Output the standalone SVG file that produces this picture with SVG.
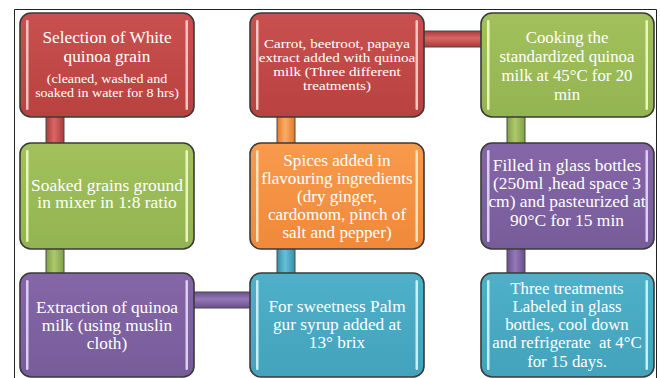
<svg xmlns="http://www.w3.org/2000/svg" width="660" height="378" viewBox="0 0 660 378">
<defs>
<linearGradient id="gRed" x1="0" y1="0" x2="0" y2="1"><stop offset="0" stop-color="#c9504f"/><stop offset="1" stop-color="#b8423f"/></linearGradient>
<linearGradient id="gGreen" x1="0" y1="0" x2="0" y2="1"><stop offset="0" stop-color="#a2c15c"/><stop offset="1" stop-color="#93b452"/></linearGradient>
<linearGradient id="gOrange" x1="0" y1="0" x2="0" y2="1"><stop offset="0" stop-color="#f99a4c"/><stop offset="1" stop-color="#f0893a"/></linearGradient>
<linearGradient id="gPurple" x1="0" y1="0" x2="0" y2="1"><stop offset="0" stop-color="#8566a8"/><stop offset="1" stop-color="#775c9a"/></linearGradient>
<linearGradient id="gBlue" x1="0" y1="0" x2="0" y2="1"><stop offset="0" stop-color="#4fb0ca"/><stop offset="1" stop-color="#43a2bc"/></linearGradient>
<linearGradient id="cRedH" x1="0" y1="0" x2="0" y2="1"><stop offset="0" stop-color="#a73a38"/><stop offset="0.45" stop-color="#d86866"/><stop offset="1" stop-color="#a73a38"/></linearGradient>
<linearGradient id="cRedV" x1="0" y1="0" x2="1" y2="0"><stop offset="0" stop-color="#a73a38"/><stop offset="0.45" stop-color="#d86866"/><stop offset="1" stop-color="#a73a38"/></linearGradient>
<linearGradient id="cGreenV" x1="0" y1="0" x2="1" y2="0"><stop offset="0" stop-color="#80a044"/><stop offset="0.45" stop-color="#aec96c"/><stop offset="1" stop-color="#80a044"/></linearGradient>
<linearGradient id="cPurpleH" x1="0" y1="0" x2="0" y2="1"><stop offset="0" stop-color="#694f8a"/><stop offset="0.45" stop-color="#9478b8"/><stop offset="1" stop-color="#694f8a"/></linearGradient>
<linearGradient id="cPurpleV" x1="0" y1="0" x2="1" y2="0"><stop offset="0" stop-color="#694f8a"/><stop offset="0.45" stop-color="#9478b8"/><stop offset="1" stop-color="#694f8a"/></linearGradient>
<linearGradient id="cBlueV" x1="0" y1="0" x2="1" y2="0"><stop offset="0" stop-color="#338ea8"/><stop offset="0.45" stop-color="#66c0d8"/><stop offset="1" stop-color="#338ea8"/></linearGradient>
<linearGradient id="cOrangeV" x1="0" y1="0" x2="1" y2="0"><stop offset="0" stop-color="#e07a2a"/><stop offset="0.45" stop-color="#fbac66"/><stop offset="1" stop-color="#e07a2a"/></linearGradient>
</defs>
<style>
.box{stroke:#3a3a3a;stroke-width:1.6}
.con{stroke:#4a4a4a;stroke-width:1}
.hl{stroke:none;opacity:0.95}
.lbl{fill:#ffffff;text-anchor:middle}
.t16{font-size:16px}
.t165{font-size:16.5px}
.t13{font-size:13px}
.t135{font-size:13.5px}
</style>
<rect x="0" y="0" width="660" height="378" fill="#ffffff"/>
<path d="M14.5 378 V9.5 H656.5 V378" fill="none" stroke="#222" stroke-width="1"/>

<g id="connectors">
<rect class="con" x="46" y="116" width="18" height="28" fill="url(#cRedV)"/>
<rect class="con" x="46" y="248" width="18" height="26" fill="url(#cGreenV)"/>
<rect class="con" x="193" y="292" width="58" height="16" fill="url(#cPurpleH)"/>
<rect class="con" x="277" y="248" width="18" height="26" fill="url(#cBlueV)"/>
<rect class="con" x="277" y="116" width="18" height="28" fill="url(#cOrangeV)"/>
<rect class="con" x="423" y="31" width="59" height="16" fill="url(#cRedH)"/>
<rect class="con" x="507" y="116" width="18" height="28" fill="url(#cGreenV)"/>
<rect class="con" x="507" y="248" width="18" height="26" fill="url(#cPurpleV)"/>
</g>

<g font-family="'Liberation Serif', 'DejaVu Serif', serif">
<g id="n1">
<rect class="box" x="20" y="13" width="174" height="104" rx="11" fill="url(#gRed)"/>
<rect class="hl" x="26" y="20" width="2.5" height="90" rx="1.2" fill="#f6cbc9"/>
<rect class="hl" x="185.5" y="20" width="2.5" height="90" rx="1.2" fill="#f6cbc9"/>
<g transform="translate(107 0) scale(1.08 1)">
<text class="lbl t16" x="0" y="43">Selection of White</text>
<text class="lbl t16" x="0" y="62">quinoa grain</text>
<text class="lbl t13" x="0" y="83">(cleaned, washed and</text>
<text class="lbl t13" x="0" y="97">soaked in water for 8 hrs)</text>
</g>
</g>

<g id="n2">
<rect class="box" x="20" y="143" width="174" height="106" rx="11" fill="url(#gGreen)"/>
<rect class="hl" x="26" y="150" width="2.5" height="92" rx="1.2" fill="#edf9c0"/>
<rect class="hl" x="185.5" y="150" width="2.5" height="92" rx="1.2" fill="#edf9c0"/>
<g transform="translate(107 0) scale(1.09 1)">
<text class="lbl t16" x="0" y="191">Soaked grains ground</text>
<text class="lbl t16" x="0" y="208.5">in mixer in 1:8 ratio</text>
</g>
</g>

<g id="n3">
<rect class="box" x="20" y="273" width="174" height="104" rx="11" fill="url(#gPurple)"/>
<rect class="hl" x="26" y="280" width="2.5" height="90" rx="1.2" fill="#e0d4f4"/>
<rect class="hl" x="185.5" y="280" width="2.5" height="90" rx="1.2" fill="#e0d4f4"/>
<g transform="translate(107 0) scale(1.08 1)">
<text class="lbl t16" x="0" y="313">Extraction of quinoa</text>
<text class="lbl t16" x="0" y="331">milk (using muslin</text>
<text class="lbl t16" x="0" y="349">cloth)</text>
</g>
</g>

<g id="n4">
<rect class="box" x="250" y="273" width="174" height="104" rx="11" fill="url(#gBlue)"/>
<rect class="hl" x="256" y="280" width="2.5" height="90" rx="1.2" fill="#ccf2fb"/>
<rect class="hl" x="415.5" y="280" width="2.5" height="90" rx="1.2" fill="#ccf2fb"/>
<g transform="translate(337 0) scale(1.08 1)">
<text class="lbl t16" x="0" y="312.5">For sweetness Palm</text>
<text class="lbl t16" x="0" y="330.5">gur syrup added at</text>
<text class="lbl t16" x="0" y="348.5">13° brix</text>
</g>
</g>

<g id="n5">
<rect class="box" x="250" y="143" width="174" height="106" rx="11" fill="url(#gOrange)"/>
<rect class="hl" x="256" y="150" width="2.5" height="92" rx="1.2" fill="#fee6c0"/>
<rect class="hl" x="415.5" y="150" width="2.5" height="92" rx="1.2" fill="#fee6c0"/>
<g transform="translate(337 0) scale(1.07 1)">
<text class="lbl t16" x="0" y="166">Spices added in</text>
<text class="lbl t16" x="0" y="184">flavouring ingredients</text>
<text class="lbl t16" x="0" y="202">(dry ginger,</text>
<text class="lbl t16" x="0" y="220">cardomom, pinch of</text>
<text class="lbl t16" x="0" y="238">salt and pepper)</text>
</g>
</g>

<g id="n6">
<rect class="box" x="250" y="13" width="174" height="104" rx="11" fill="url(#gRed)"/>
<rect class="hl" x="256" y="20" width="2.5" height="90" rx="1.2" fill="#f6cbc9"/>
<rect class="hl" x="415.5" y="20" width="2.5" height="90" rx="1.2" fill="#f6cbc9"/>
<g transform="translate(337 0) scale(1.12 1)">
<text class="lbl t135" x="0" y="48">Carrot, beetroot, papaya</text>
<text class="lbl t135" x="0" y="62">extract added with quinoa</text>
<text class="lbl t135" x="0" y="76">milk (Three different</text>
<text class="lbl t135" x="0" y="90">treatments)</text>
</g>
</g>

<g id="n7">
<rect class="box" x="481" y="13" width="173" height="104" rx="11" fill="url(#gGreen)"/>
<rect class="hl" x="487" y="20" width="2.5" height="90" rx="1.2" fill="#edf9c0"/>
<rect class="hl" x="645.5" y="20" width="2.5" height="90" rx="1.2" fill="#edf9c0"/>
<g transform="translate(567 0) scale(1.02 1)">
<text class="lbl t165" x="0" y="43">Cooking the</text>
<text class="lbl t165" x="0" y="62">standardized quinoa</text>
<text class="lbl t165" x="0" y="81">milk at 45°C for 20</text>
<text class="lbl t165" x="0" y="100">min</text>
</g>
</g>

<g id="n8">
<rect class="box" x="481" y="143" width="173" height="106" rx="11" fill="url(#gPurple)"/>
<rect class="hl" x="487" y="150" width="2.5" height="92" rx="1.2" fill="#e0d4f4"/>
<rect class="hl" x="645.5" y="150" width="2.5" height="92" rx="1.2" fill="#e0d4f4"/>
<g transform="translate(567 0) scale(1.09 1)">
<text class="lbl t16" x="0" y="171">Filled in glass bottles</text>
<text class="lbl t16" x="0" y="189">(250ml ,head space 3</text>
<text class="lbl t16" x="0" y="207">cm) and pasteurized at</text>
<text class="lbl t16" x="0" y="226">90°C for 15 min</text>
</g>
</g>

<g id="n9">
<rect class="box" x="481" y="273" width="173" height="104" rx="11" fill="url(#gBlue)"/>
<rect class="hl" x="487" y="280" width="2.5" height="90" rx="1.2" fill="#ccf2fb"/>
<rect class="hl" x="645.5" y="280" width="2.5" height="90" rx="1.2" fill="#ccf2fb"/>
<g transform="translate(567 0) scale(1.05 1)">
<text class="lbl t16" x="0" y="294">Three treatments</text>
<text class="lbl t16" x="0" y="312">Labeled in glass</text>
<text class="lbl t16" x="0" y="330">bottles, cool down</text>
<text class="lbl t16" x="0" y="348" xml:space="preserve">and refrigerate  at 4°C</text>
<text class="lbl t16" x="0" y="367">for 15 days.</text>
</g>
</g>
</g>
</svg>
